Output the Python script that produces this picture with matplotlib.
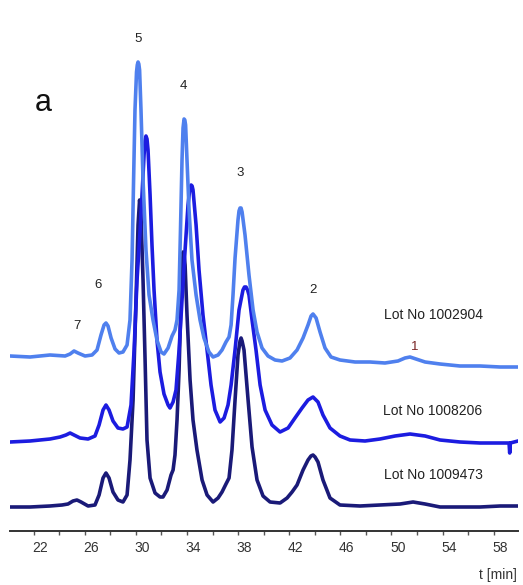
import numpy as np
import matplotlib
matplotlib.use("Agg")
import matplotlib.pyplot as plt

plt.rcParams['font.family'] = ['Liberation Sans', 'DejaVu Sans']

# retention time [min] and detector signal (arbitrary units, traces stacked as in the original)
t_1002904 = [19.65, 21.22, 22.78, 23.96, 24.35, 24.66, 24.97, 25.52, 26.07, 26.46, 26.77, 27.01,
             27.16, 27.32, 27.56, 27.87, 28.18, 28.49, 28.81, 29.04, 29.20, 29.32, 29.43, 29.55,
             29.61, 29.67, 29.73, 29.79, 29.90, 30.06, 30.29, 30.53, 30.84, 31.15, 31.47, 31.70,
             32.02, 32.33, 32.56, 32.72, 32.88, 32.99, 33.11, 33.19, 33.27, 33.33, 33.39, 33.50,
             33.66, 33.89, 34.21, 34.52, 34.83, 35.22, 35.54, 35.93, 36.24, 36.55, 36.79, 36.95,
             37.10, 37.26, 37.49, 37.57, 37.65, 37.73, 37.81, 38.04, 38.35, 38.67, 38.98, 39.37,
             39.84, 40.39, 40.94, 41.56, 42.11, 42.58, 42.97, 43.21, 43.36, 43.60, 43.91, 44.30,
             44.77, 45.47, 46.65, 47.82, 48.99, 50.01, 50.56, 50.95, 51.42, 52.13, 53.30, 54.86,
             56.43, 58.00, 59.40]
s_1002904 = [175, 174, 176, 175, 177, 180, 178, 175, 176, 181, 196, 206,
             208, 205, 193, 182, 178, 179, 186, 211, 271, 351, 421, 459,
             466, 469, 467, 461, 421, 351, 281, 236, 211, 191, 179, 177,
             183, 195, 201, 211, 241, 301, 371, 403, 412, 411, 406, 371,
             321, 271, 236, 211, 193, 179, 174, 176, 181, 189, 194, 206,
             236, 273, 311, 320, 323, 323, 319, 296, 256, 221, 199, 183,
             175, 171, 170, 173, 181, 193, 206, 215, 217, 213, 199, 183,
             174, 171, 169, 169, 168, 170, 173, 174, 172, 169, 167, 165,
             165, 164, 164]

t_1008206 = [19.65, 21.22, 22.78, 23.57, 24.03, 24.35, 24.66, 25.13, 25.76, 26.30, 26.62, 26.93,
             27.16, 27.40, 27.71, 28.10, 28.49, 28.81, 29.12, 29.36, 29.59, 29.83, 29.98, 30.14,
             30.22, 30.29, 30.37, 30.45, 30.61, 30.76, 30.92, 31.15, 31.39, 31.70, 32.02, 32.17,
             32.41, 32.64, 32.88, 33.11, 33.35, 33.58, 33.70, 33.82, 33.90, 33.97, 34.21, 34.44,
             34.75, 35.07, 35.38, 35.69, 36.09, 36.40, 36.71, 36.95, 37.26, 37.57, 37.88, 38.00,
             38.12, 38.24, 38.35, 38.59, 38.90, 39.22, 39.61, 40.15, 40.78, 41.41, 41.95, 42.50,
             42.97, 43.36, 43.75, 44.14, 44.69, 45.47, 46.26, 47.43, 48.60, 49.78, 50.95, 52.13,
             53.30, 54.86, 56.43, 58.00, 58.70, 58.75, 58.80, 59.40]
s_1008206 = [89, 90, 92, 94, 96, 98, 96, 93, 92, 95, 106, 121,
             126, 121, 110, 103, 102, 104, 126, 181, 251, 301, 336, 376,
             390, 395, 392, 381, 336, 286, 241, 191, 159, 137, 126, 123,
             129, 141, 181, 231, 281, 326, 340, 346, 345, 341, 306, 261,
             216, 181, 146, 121, 109, 113, 126, 146, 181, 221, 241, 244,
             244, 241, 236, 211, 181, 146, 121, 106, 99, 103, 113, 123,
             131, 134, 129, 116, 103, 95, 91, 90, 92, 95, 97, 95,
             91, 89, 88, 88, 88, 78, 88, 90]

t_1009473 = [19.65, 21.22, 22.78, 23.72, 24.19, 24.58, 24.89, 25.21, 25.76, 26.30, 26.62, 26.93,
             27.16, 27.40, 27.71, 28.10, 28.49, 28.81, 29.04, 29.28, 29.51, 29.67, 29.79, 29.90,
             30.06, 30.22, 30.37, 30.61, 31.00, 31.39, 31.62, 31.94, 32.25, 32.41, 32.56, 32.72,
             32.88, 33.03, 33.19, 33.27, 33.35, 33.50, 33.74, 33.97, 34.28, 34.68, 35.07, 35.54,
             35.93, 36.24, 36.55, 36.79, 37.02, 37.26, 37.49, 37.65, 37.73, 37.81, 37.96, 38.28,
             38.59, 38.98, 39.45, 40.00, 40.78, 41.33, 41.72, 42.11, 42.58, 42.97, 43.20, 43.36,
             43.52, 43.75, 44.14, 44.69, 45.47, 47.04, 48.60, 50.17, 51.19, 52.13, 53.30, 54.86,
             56.43, 58.00, 59.40]
s_1009473 = [24, 24, 25, 26, 27, 30, 31, 29, 25, 26, 36, 53,
             58, 53, 39, 31, 29, 36, 71, 131, 231, 306, 331, 316,
             251, 171, 91, 53, 38, 34, 34, 41, 56, 61, 76, 111,
             161, 231, 279, 276, 266, 216, 151, 111, 81, 51, 36, 29,
             33, 39, 47, 53, 81, 131, 176, 190, 193, 190, 181, 131,
             84, 51, 35, 29, 28, 33, 39, 46, 61, 71, 75, 76,
             74, 69, 51, 33, 26, 25, 26, 27, 29, 27, 24, 24,
             24, 25, 25]

lots = ['Lot No 1002904', 'Lot No 1008206', 'Lot No 1009473']
peak_names = ['1', '2', '3', '4', '5', '6', '7']
x_ticks = [22, 26, 30, 34, 38, 42, 46, 50, 54, 58]

fig = plt.figure(figsize=(5.23, 5.85), dpi=100)
ax = fig.add_axes([10 / 523, 54 / 585, 508 / 523, 531 / 585])

ax.plot(t_1009473, s_1009473, color='#1a1a78', lw=2.6, solid_joinstyle='round')
ax.plot(t_1008206, s_1008206, color='#1c1ce0', lw=2.6, solid_joinstyle='round')
ax.plot(t_1002904, s_1002904, color='#4f80ee', lw=2.6, solid_joinstyle='round')

ax.set_xlim(19.65, 59.40)
ax.set_ylim(0, 531)

# peak numbers
peak_pos = {'1': (51.34, 184), '2': (43.36, 241), '3': (37.65, 358), '4': (33.19, 445),
            '5': (29.67, 492), '6': (26.54, 246), '7': (24.89, 205)}
for name in peak_names:
    col = '#7a2525' if name == '1' else '#222222'
    ax.text(*peak_pos[name], name, ha='center', va='center', fontsize=9.5, color=col)

for lot, y in zip(lots, [216, 120, 56]):
    ax.text(52.75, y, lot, ha='center', va='center', fontsize=10, color='#222222')

ax.text(21.55, 428, 'a', ha='left', va='center', fontsize=22, color='#111111')

for side in ['left', 'right', 'top']:
    ax.spines[side].set_visible(False)
ax.spines['bottom'].set_color('#333333')
ax.spines['bottom'].set_linewidth(1.4)
ax.set_yticks([])

ax.set_xticks(x_ticks)
ax.set_xticklabels([str(v) for v in x_ticks])
ax.set_xticks(np.arange(21.5, 59.4, 2), minor=True)
ax.tick_params(axis='x', which='major', length=0, pad=7, labelsize=10, labelcolor='#333333')
ax.tick_params(axis='x', which='minor', length=3, width=1, color='#555555', direction='out')

fig.text(517 / 523, 1 - 575 / 585, 't [min]', ha='right', va='center', fontsize=10, color='#333333')

fig.savefig('out.png', dpi=100)
